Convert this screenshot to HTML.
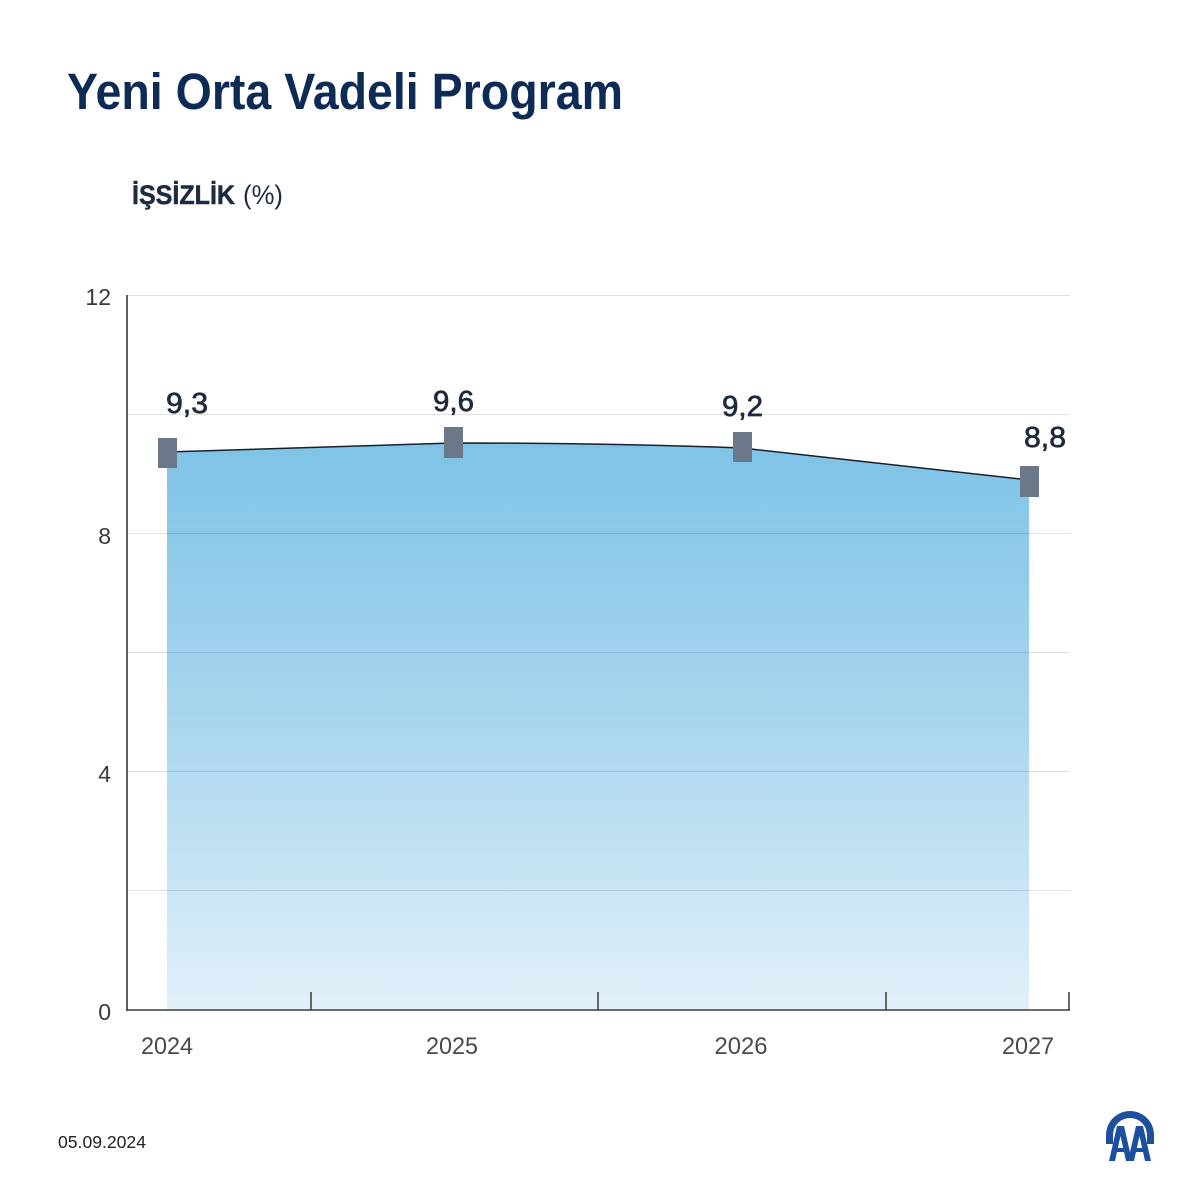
<!DOCTYPE html>
<html><head><meta charset="utf-8"><style>
html,body{margin:0;padding:0;background:#fff;}
svg{display:block;}
text{font-family:"Liberation Sans",sans-serif;}
</style></head><body>
<svg width="1200" height="1200" viewBox="0 0 1200 1200" xmlns="http://www.w3.org/2000/svg">
<defs>
<linearGradient id="ag" x1="0" y1="440" x2="0" y2="1010" gradientUnits="userSpaceOnUse">
<stop offset="0" stop-color="#7ec3e6"/>
<stop offset="0.5" stop-color="#a9d6ee"/>
<stop offset="1" stop-color="#e2f0f9"/>
</linearGradient>
</defs>
<rect width="1200" height="1200" fill="#fff"/>
<text x="67" y="109" font-size="51" font-weight="bold" fill="#0d2b55" textLength="556" lengthAdjust="spacingAndGlyphs">Yeni Orta Vadeli Program</text>
<text x="132" y="204" font-size="27" font-weight="bold" fill="#1c2b42" stroke="#1c2b42" stroke-width="0.5" textLength="103" lengthAdjust="spacingAndGlyphs">İŞSİZLİK</text>
<text x="243" y="204" font-size="27" fill="#1c2b42" textLength="40" lengthAdjust="spacingAndGlyphs">(%)</text>

<!-- area -->
<path d="M167,452 L453,443 C549,443 646,444.5 742,448 L1029,480 L1029,1010 L167,1010 Z" fill="url(#ag)"/>

<!-- gridlines -->
<g stroke="#000" stroke-opacity="0.12" stroke-width="1">
<line x1="127" y1="295.5" x2="1070" y2="295.5"/>
<line x1="127" y1="414.5" x2="1070" y2="414.5"/>
<line x1="127" y1="533.5" x2="1070" y2="533.5"/>
<line x1="127" y1="652.5" x2="1070" y2="652.5"/>
<line x1="127" y1="771.5" x2="1070" y2="771.5"/>
<line x1="127" y1="890.5" x2="1070" y2="890.5"/>
</g>

<!-- line -->
<path d="M167,452 L453,443 C549,443 646,444.5 742,448 L1029,480" fill="none" stroke="#1a1f2e" stroke-width="1.5"/>

<!-- axes -->
<line x1="127" y1="295" x2="127" y2="1011" stroke="#2a2a2a" stroke-width="1.5"/>
<line x1="127" y1="1010" x2="1070" y2="1010" stroke="#3a3a3a" stroke-width="1.6"/>
<g stroke="#3a3a3a" stroke-width="1.5">
<line x1="311" y1="992" x2="311" y2="1010"/>
<line x1="598" y1="992" x2="598" y2="1010"/>
<line x1="886" y1="992" x2="886" y2="1010"/>
<line x1="1069" y1="992" x2="1069" y2="1010"/>
</g>

<!-- markers -->
<g fill="#6a7889">
<rect x="158" y="438" width="19" height="30"/>
<rect x="444" y="427" width="19" height="31"/>
<rect x="733" y="432" width="19" height="30"/>
<rect x="1020" y="466" width="19" height="31"/>
</g>

<!-- value labels -->
<g font-size="29" fill="#1f2a3c" stroke="#1f2a3c" stroke-width="0.7">
<text x="166" y="413" textLength="42" lengthAdjust="spacingAndGlyphs">9,3</text>
<text x="433" y="411" textLength="41" lengthAdjust="spacingAndGlyphs">9,6</text>
<text x="722" y="416" textLength="41" lengthAdjust="spacingAndGlyphs">9,2</text>
<text x="1024" y="447" textLength="42" lengthAdjust="spacingAndGlyphs">8,8</text>
</g>

<!-- y labels -->
<g font-size="23" fill="#3a3a3a" text-anchor="end">
<text x="111" y="305">12</text>
<text x="111" y="544">8</text>
<text x="111" y="782">4</text>
<text x="111" y="1020">0</text>
</g>

<!-- x labels -->
<g font-size="24" fill="#4a4a4a" text-anchor="middle">
<text x="167" y="1054" textLength="52" lengthAdjust="spacingAndGlyphs">2024</text>
<text x="452" y="1054" textLength="52" lengthAdjust="spacingAndGlyphs">2025</text>
<text x="741" y="1054" textLength="53" lengthAdjust="spacingAndGlyphs">2026</text>
<text x="1028" y="1054" textLength="52" lengthAdjust="spacingAndGlyphs">2027</text>
</g>

<text x="58" y="1148" font-size="17.5" fill="#222" textLength="88" lengthAdjust="spacingAndGlyphs">05.09.2024</text>

<!-- logo -->
<g fill="#1d4f9f">
<path d="M1106,1144 L1106,1135 A24,24 0 0 1 1154,1135 L1154,1144 L1147,1144 L1147,1135 A17,17 0 0 0 1113,1135 L1113,1144 Z"/>
<polygon points="1109,1161 1117,1126 1124,1126 1132,1161 1126,1161 1120.5,1136 1115,1161"/>
<polygon points="1128,1161 1136,1126 1143,1126 1151,1161 1145,1161 1139.5,1136 1134,1161"/>
<rect x="1113" y="1148" width="15" height="4"/>
<rect x="1132" y="1148" width="15" height="4"/>
</g>
</svg>
</body></html>
